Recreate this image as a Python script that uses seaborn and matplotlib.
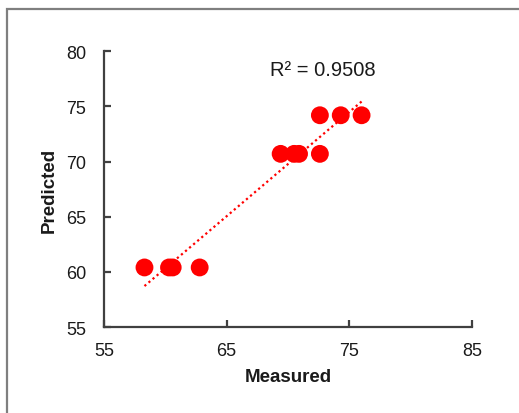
import numpy as np
import pandas as pd
import seaborn as sns
import matplotlib.pyplot as plt
from matplotlib.patches import Rectangle

measured = [58.3, 60.3, 60.6, 62.8, 69.4, 70.5, 70.9, 72.6, 72.6, 74.3, 76.0]
predicted = [60.4, 60.4, 60.4, 60.4, 70.7, 70.7, 70.7, 70.7, 74.2, 74.2, 74.2]
r2_text = "R² = 0.9508"
x_ticks = [55, 65, 75, 85]
y_ticks = [55, 60, 65, 70, 75, 80]

df = pd.DataFrame({"Measured": measured, "Predicted": predicted})

sns.set_style("ticks")
plt.rcParams["font.family"] = ["Liberation Sans", "DejaVu Sans"]

fig = plt.figure(figsize=(5.19, 4.14), dpi=100)
ax = fig.add_axes([0.2004, 0.2077, 0.709, 0.666])

# outer chart frame (right/bottom edges fall off the picture)
fig.patches.append(Rectangle((6.5 / 519, -0.1), 1.2, 1 - 9.8 / 414 + 0.1,
                             transform=fig.transFigure, fill=False,
                             edgecolor="#7f7f7f", linewidth=1.6))

sns.regplot(data=df, x="Measured", y="Predicted", scatter=False, ci=None,
            ax=ax, line_kws=dict(color="#ff0000", linewidth=1.6,
                                 linestyle=(0, (1, 1.4))))
sns.scatterplot(data=df, x="Measured", y="Predicted", ax=ax, color="#ff0000",
                s=165, edgecolor="none", zorder=3)

ax.set_xlim(55, 85)
ax.set_ylim(55, 80)
ax.set_xticks(x_ticks)
ax.set_yticks(y_ticks)

for side in ["top", "right"]:
    ax.spines[side].set_visible(False)
for side in ["left", "bottom"]:
    ax.spines[side].set_color("#404040")
    ax.spines[side].set_linewidth(1.6)

ax.tick_params(axis="both", direction="in", length=5, width=1.6,
               color="#404040", labelsize=13, labelcolor="#1a1a1a")
ax.tick_params(axis="x", pad=11)
ax.tick_params(axis="y", pad=13)

ax.set_xlabel("Measured", fontsize=13.5, fontweight="bold", color="#1a1a1a",
              labelpad=6)
ax.set_ylabel("Predicted", fontsize=13.5, fontweight="bold", color="#1a1a1a",
              labelpad=6)

ax.text(0.595, 0.935, r2_text, transform=ax.transAxes, ha="center",
        va="center", fontsize=14.5, color="#1a1a1a")

fig.savefig("out.png", dpi=100)
